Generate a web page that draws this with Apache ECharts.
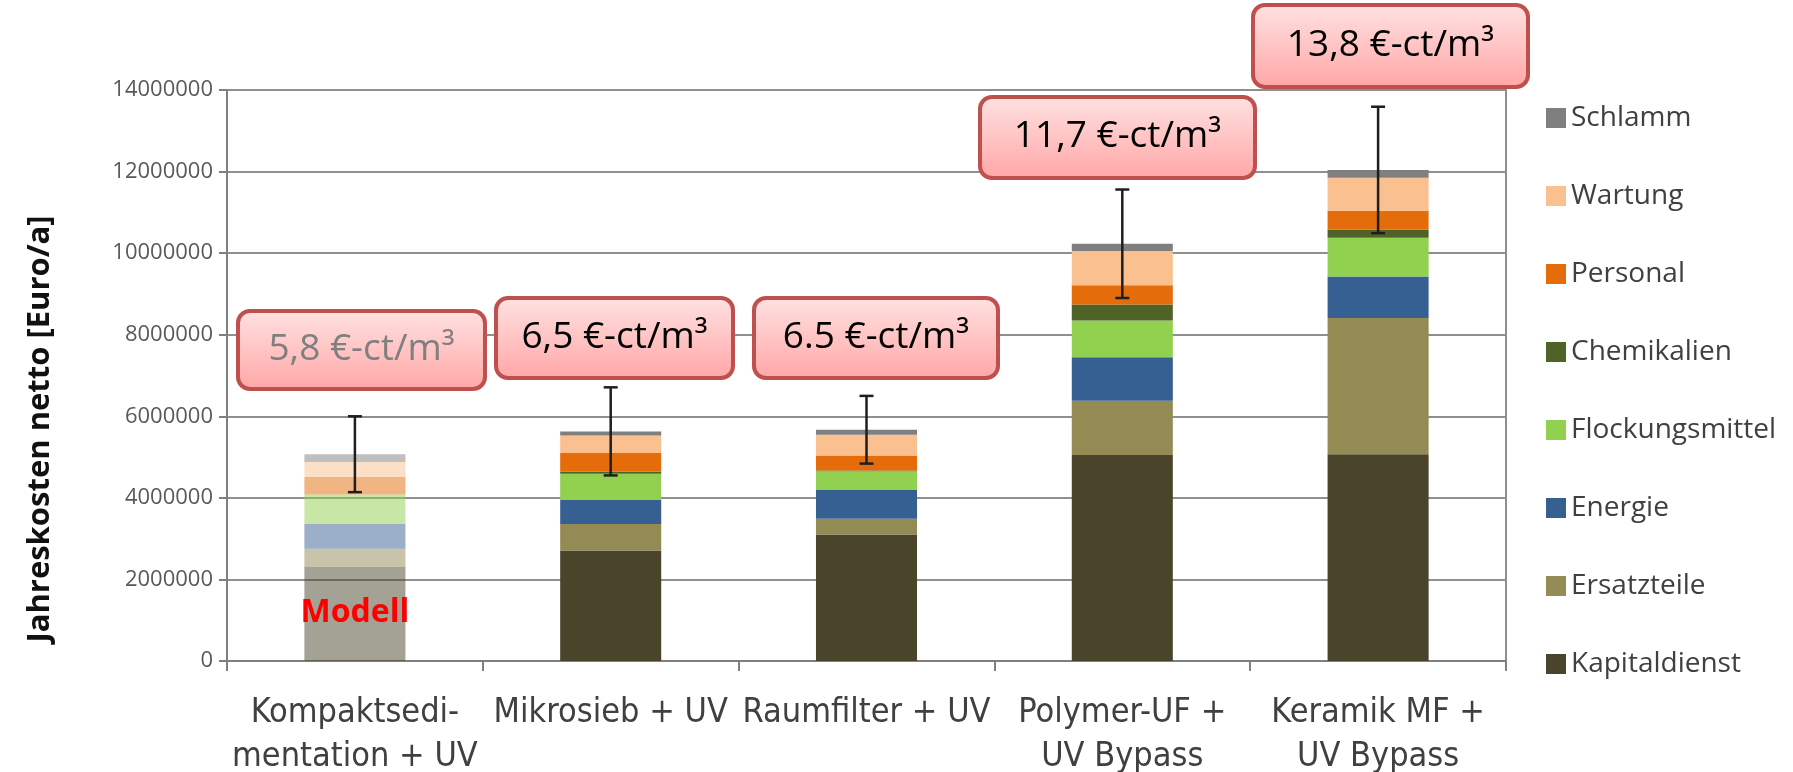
<!DOCTYPE html>
<html>
<head>
<meta charset="utf-8">
<script src="https://cdn.jsdelivr.net/npm/echarts@6/dist/echarts.min.js"></script>
<style>
  html, body { margin: 0; padding: 0; background: #ffffff; }
  #chart { width: 1793px; height: 772px; }
</style>
</head>
<body>
<div id="chart"></div>
<script>
// Treatment options (x axis)
const categories = [
  'Kompaktsedi-\nmentation + UV',
  'Mikrosieb + UV',
  'Raumfilter + UV',
  'Polymer-UF +\nUV Bypass',
  'Keramik MF +\nUV Bypass'
];

// Annual net cost components in Euro/a, stacked bottom to top
const kapitaldienst   = [2310000, 2710000, 3100000, 5050000, 5070000];
const ersatzteile     = [ 440000,  650000,  390000, 1330000, 3340000];
const energie         = [ 610000,  600000,  700000, 1070000, 1020000];
const flockungsmittel = [ 720000,  630000,  460000,  900000,  950000];
const chemikalien     = [      0,   50000,   20000,  390000,  200000];
const personal        = [ 430000,  460000,  370000,  470000,  460000];
const wartung         = [ 370000,  430000,  510000,  840000,  810000];
const schlamm         = [ 190000,  100000,  120000,  180000,  190000];

// Symmetric uncertainty around each stack total (Euro/a)
const errorRange = [930000, 1080000, 830000, 1330000, 1550000];

// Specific cost per cubic metre for each option
const costLabels = ['5,8 €-ct/m³', '6,5 €-ct/m³', '6.5 €-ct/m³', '11,7 €-ct/m³', '13,8 €-ct/m³'];

// Value axis
const yMin = 0;
const yMax = 14000000;
const yStep = 2000000;

// Name of the modelled (first) option shown inside its bar
const modelLabel = 'Modell';

const seriesDefs = [
  { name: 'Kapitaldienst',   data: kapitaldienst,   color: '#4a452a' },
  { name: 'Ersatzteile',     data: ersatzteile,     color: '#948a54' },
  { name: 'Energie',         data: energie,         color: '#376092' },
  { name: 'Flockungsmittel', data: flockungsmittel, color: '#92d050' },
  { name: 'Chemikalien',     data: chemikalien,     color: '#4f6228' },
  { name: 'Personal',        data: personal,        color: '#e46c0a' },
  { name: 'Wartung',         data: wartung,         color: '#fac090' },
  { name: 'Schlamm',         data: schlamm,         color: '#7f7f7f' }
];

function fade(hex, a) {
  const n = parseInt(hex.slice(1), 16);
  return 'rgba(' + (n >> 16 & 255) + ',' + (n >> 8 & 255) + ',' + (n & 255) + ',' + a + ')';
}

const totals = categories.map((_, i) => seriesDefs.reduce((s, d) => s + d.data[i], 0));
const errorData = categories.map((_, i) => [i, totals[i], errorRange[i]]);

const FONT = '"Open Sans", "Noto Sans", sans-serif';

const barSeries = seriesDefs.map((d, si) => ({
  name: d.name,
  type: 'bar',
  stack: 'kosten',
  barWidth: '39.5%',
  itemStyle: { color: d.color },
  emphasis: { disabled: true },
  data: d.data.map((v, i) => {
    if (i !== 0) return v;
    const item = { value: v, itemStyle: { color: fade(d.color, 0.5) } };
    if (si === 0) {
      item.label = {
        show: true,
        position: 'inside',
        formatter: modelLabel,
        color: '#ff0000',
        fontWeight: 'bold',
        fontSize: 32,
        fontFamily: FONT,
        offset: [0, -1]
      };
    }
    return item;
  })
}));

const errorSeries = {
  name: 'Fehlerbereich',
  type: 'custom',
  z: 10,
  data: errorData,
  renderItem: function (params, api) {
    const idx = api.value(0);
    const total = api.value(1);
    const err = api.value(2);
    const top = api.coord([idx, total + err]);
    const bot = api.coord([idx, total - err]);
    const cap = 7;
    const st = { stroke: '#1e1e1e', lineWidth: 2.5 };
    return {
      type: 'group',
      children: [
        { type: 'line', shape: { x1: top[0], y1: top[1], x2: bot[0], y2: bot[1] }, style: st },
        { type: 'line', shape: { x1: top[0] - cap, y1: top[1], x2: top[0] + cap, y2: top[1] }, style: st },
        { type: 'line', shape: { x1: bot[0] - cap, y1: bot[1], x2: bot[0] + cap, y2: bot[1] }, style: st }
      ]
    };
  }
};

// Callout boxes with the specific cost of each option
const boxLayout = [
  { x: 238,  y: 311, w: 247, h: 78, color: '#7f7f7f' },
  { x: 496,  y: 298, w: 237, h: 80, color: '#000000' },
  { x: 754,  y: 298, w: 244, h: 80, color: '#000000' },
  { x: 980,  y: 97,  w: 275, h: 81, color: '#000000' },
  { x: 1253, y: 5,   w: 275, h: 82, color: '#000000' }
];

const boxes = [];
boxLayout.forEach((b, i) => {
  boxes.push({
    type: 'rect',
    z: 100,
    shape: { x: b.x, y: b.y, width: b.w, height: b.h, r: 12 },
    style: {
      fill: new echarts.graphic.LinearGradient(0, 0, 0, 1, [
        { offset: 0, color: '#ffe2e2' },
        { offset: 1, color: '#ffa6a6' }
      ]),
      stroke: '#c0504d',
      lineWidth: 4
    }
  });
  boxes.push({
    type: 'text',
    z: 101,
    x: b.x + b.w / 2,
    y: b.y + b.h / 2 - 1,
    style: {
      text: costLabels[i],
      fill: b.color,
      fontSize: 37,
      fontFamily: FONT,
      align: 'center',
      verticalAlign: 'middle'
    }
  });
});

const chart = echarts.init(document.getElementById('chart'), null, { renderer: 'canvas' });

chart.setOption({
  backgroundColor: '#ffffff',
  animation: false,
  grid: {
    left: 227, right: 287, top: 90, bottom: 111,
    containLabel: false,
    outerBoundsMode: 'none',
    show: true, borderColor: '#8f8f8f', borderWidth: 2, backgroundColor: 'transparent'
  },
  legend: {
    orient: 'vertical',
    left: 1541,
    top: 99,
    itemWidth: 20,
    itemHeight: 20,
    itemGap: 50,
    icon: 'rect',
    selectedMode: false,
    textStyle: { fontSize: 28, lineHeight: 28, color: '#404040', fontFamily: FONT },
    data: ['Schlamm', 'Wartung', 'Personal', 'Chemikalien', 'Flockungsmittel', 'Energie', 'Ersatzteile', 'Kapitaldienst']
  },
  xAxis: {
    type: 'category',
    data: categories,
    axisLine: { lineStyle: { color: '#7f7f7f', width: 2 } },
    axisTick: { show: true, length: 10, lineStyle: { color: '#7f7f7f', width: 2 } },
    axisLabel: {
      interval: 0,
      margin: 30,
      color: '#404040',
      fontSize: 34,
      lineHeight: 44,
      fontFamily: '"DejaVu Sans Condensed", "Liberation Sans Narrow", sans-serif'
    }
  },
  yAxis: {
    type: 'value',
    min: yMin,
    max: yMax,
    interval: yStep,
    axisLine: { show: true, lineStyle: { color: '#7f7f7f', width: 2 } },
    axisTick: { show: true, length: 8, lineStyle: { color: '#7f7f7f', width: 2 } },
    axisLabel: {
      margin: 14,
      color: '#595959',
      fontSize: 22,
      fontFamily: FONT,
      formatter: v => String(v)
    },
    splitLine: { show: true, lineStyle: { color: '#8f8f8f', width: 2 } }
  },
  graphic: [
    {
      type: 'text',
      x: 40,
      y: 429,
      rotation: Math.PI / 2,
      z: 100,
      style: {
        text: 'Jahreskosten netto [Euro/a]',
        fontSize: 31,
        fontWeight: 'bold',
        fontFamily: FONT,
        fill: '#111111',
        align: 'center',
        verticalAlign: 'middle'
      }
    }
  ].concat(boxes),
  series: barSeries.concat([errorSeries])
});
</script>
</body>
</html>
